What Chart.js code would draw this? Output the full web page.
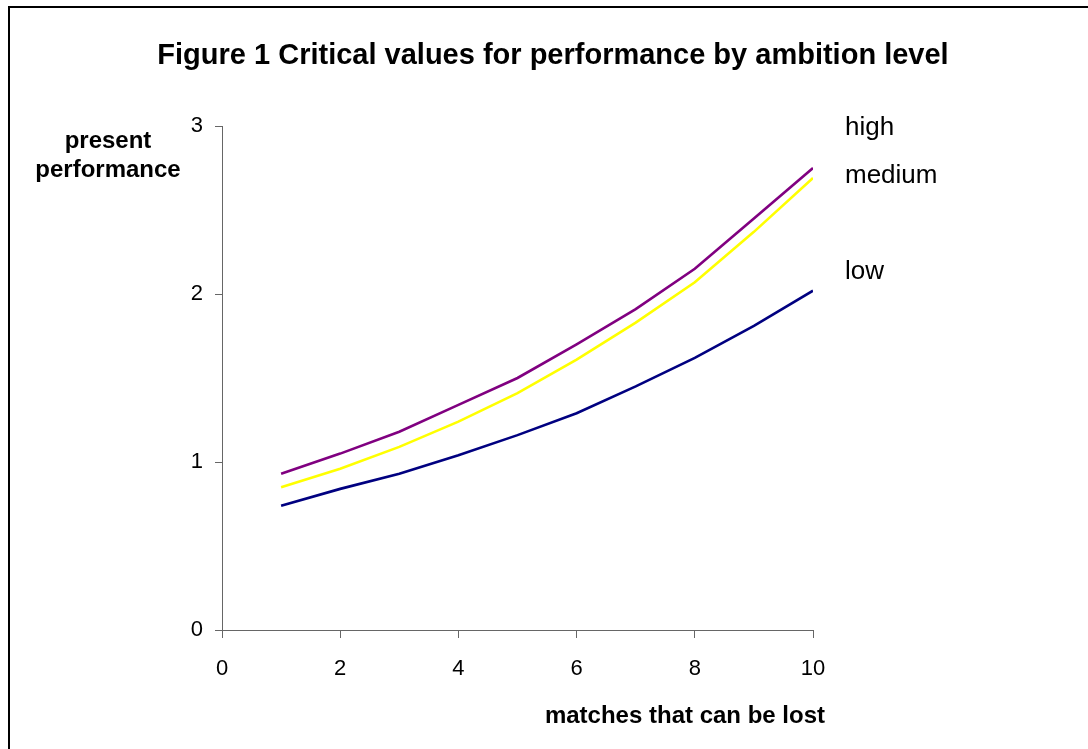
<!DOCTYPE html>
<html>
<head>
<meta charset="utf-8">
<script src="https://cdn.jsdelivr.net/npm/chart.js@4"></script>
<style>
  html, body { margin: 0; padding: 0; background: #fff; }
  #wrap { position: relative; width: 1088px; height: 749px; }
  #frame { position: absolute; left: 8px; top: 6px; width: 1100px; height: 760px;
    border-left: 2px solid #000; border-top: 2px solid #000; }
  canvas { position: absolute; left: 0; top: 0; }
</style>
</head>
<body>
<div id="wrap">
  <div id="frame"></div>
  <canvas id="chart" width="1088" height="749"></canvas>
</div>
<script>
const matchesLost = [1, 2, 3, 4, 5, 6, 7, 8, 9, 10];
const highAmbition = [0.93, 1.05, 1.18, 1.34, 1.50, 1.70, 1.91, 2.15, 2.45, 2.75];
const mediumAmbition = [0.85, 0.96, 1.09, 1.24, 1.41, 1.61, 1.83, 2.07, 2.37, 2.69];
const lowAmbition = [0.74, 0.84, 0.93, 1.04, 1.16, 1.29, 1.45, 1.62, 1.81, 2.02];
const xTicks = [0, 2, 4, 6, 8, 10];
const yTicks = [0, 1, 2, 3];

const FONT = 'Arial, "Liberation Sans", sans-serif';

const toPoints = (vals) => vals.map((v, i) => ({ x: matchesLost[i], y: v }));

// title, axis titles and series labels drawn as text
const textPlugin = {
  id: 'texts',
  afterDraw(chart) {
    const ctx = chart.ctx;
    ctx.save();
    ctx.fillStyle = '#000';
    ctx.textBaseline = 'middle';

    ctx.font = 'bold 29px ' + FONT;
    ctx.textAlign = 'center';
    ctx.fillText('Figure 1 Critical values for performance by ambition level', 553, 56);

    ctx.font = 'bold 24px ' + FONT;
    ctx.fillText('present', 108, 141);
    ctx.fillText('performance', 108, 170);

    ctx.textAlign = 'right';
    ctx.fillText('matches that can be lost', 825, 716);

    ctx.font = '26px ' + FONT;
    ctx.textAlign = 'left';
    ctx.fillText('high', 845, 128);
    ctx.fillText('medium', 845, 176);
    ctx.fillText('low', 845, 272);
    ctx.restore();
  },
};

const data = {
  datasets: [
    {
      label: 'high',
      data: toPoints(highAmbition),
      borderColor: '#800080',
    },
    {
      label: 'medium',
      data: toPoints(mediumAmbition),
      borderColor: '#FFFF00',
    },
    {
      label: 'low',
      data: toPoints(lowAmbition),
      borderColor: '#000080',
    },
  ],
};

const config = {
  type: 'line',
  data: data,
  plugins: [textPlugin],
  options: {
    responsive: false,
    animation: false,
    layout: {
      padding: { left: 0, right: 275, top: 126, bottom: 0 },
    },
    elements: {
      line: { borderWidth: 2.6, tension: 0 },
      point: { radius: 0 },
    },
    plugins: {
      legend: { display: false },
      title: { display: false },
      tooltip: { enabled: false },
    },
    scales: {
      x: {
        type: 'linear',
        min: 0,
        max: 10,
        afterBuildTicks: (scale) => {
          scale.ticks = xTicks.map((v) => ({ value: v }));
        },
        afterFit: (scale) => {
          scale.height = 119;
        },
        grid: {
          drawOnChartArea: false,
          drawTicks: true,
          tickLength: 8,
          color: '#666',
        },
        border: { color: '#666', width: 1 },
        ticks: {
          color: '#000',
          padding: 18,
          maxRotation: 0,
          font: { family: FONT, size: 22 },
        },
      },
      y: {
        type: 'linear',
        min: 0,
        max: 3,
        afterBuildTicks: (scale) => {
          scale.ticks = yTicks.map((v) => ({ value: v }));
        },
        afterFit: (scale) => {
          scale.width = 222;
        },
        grid: {
          drawOnChartArea: false,
          drawTicks: true,
          tickLength: 7,
          color: '#666',
        },
        border: { color: '#666', width: 1 },
        ticks: {
          color: '#000',
          padding: 12,
          font: { family: FONT, size: 22 },
        },
      },
    },
  },
};

new Chart(document.getElementById('chart').getContext('2d'), config);
</script>
</body>
</html>
